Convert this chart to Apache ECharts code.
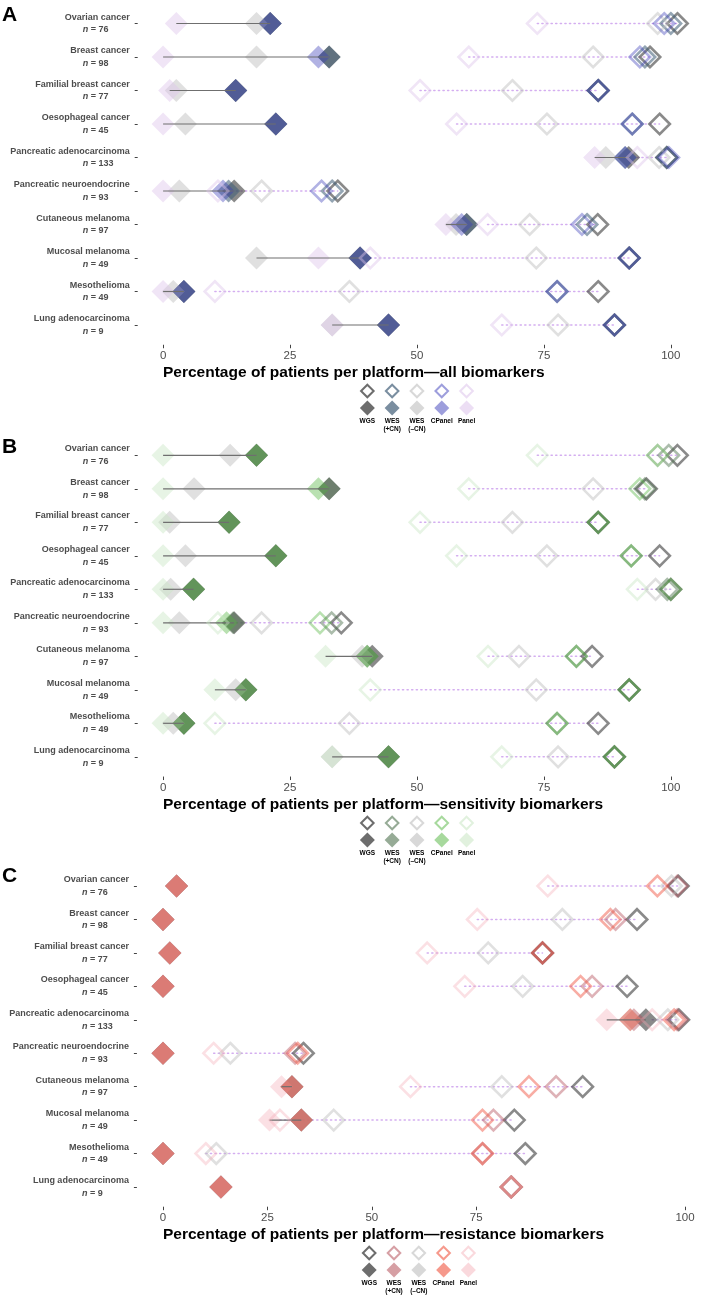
<!DOCTYPE html>
<html><head><meta charset="utf-8">
<script src="https://cdn.jsdelivr.net/npm/echarts@6/dist/echarts.min.js"></script>
<style>html,body{margin:0;padding:0;background:#fff}#c{width:704px;height:1296px}</style>
</head><body><div id="c"></div><script>
// ---------- DATA ----------
const cancers = ['Ovarian cancer','Breast cancer','Familial breast cancer','Oesophageal cancer','Pancreatic adenocarcinoma','Pancreatic neuroendocrine','Cutaneous melanoma','Mucosal melanoma','Mesothelioma','Lung adenocarcinoma'];
const cohortN = [76,98,77,45,133,93,97,49,49,9];
const platforms = ['WGS','WES (+CN)','WES (–CN)','CPanel','Panel'];
const legendLabels = ['WGS','WES\n(+CN)','WES\n(–CN)','CPanel','Panel'];
const panelLetters = ['A','B','C'];
const axisTitles = ['Percentage of patients per platform—all biomarkers','Percentage of patients per platform—sensitivity biomarkers','Percentage of patients per platform—resistance biomarkers'];
const tickValuesAB = [0,25,50,75,100];
const tickValuesC = [0,20,40,60,100];
const tickLabelsC = ['0','25','50','75','100'];

// Panel A – all biomarkers (filled / open diamonds), order follows cancers
const aFilledWGS     = [21.1, 32.7, 14.3, 22.2, 91.7, 14.0, 59.8, 38.8, 4.1, 44.4];
const aFilledWESCN   = [21.1, 32.7, 14.3, 22.2, 91.0, 12.9, 59.8, 38.8, 4.1, 44.4];
const aFilledWESnoCN = [18.4, 18.4, 2.6, 4.4, 87.2, 3.2, 57.7, 18.4, 2.0, 33.3];
const aFilledCPanel  = [21.1, 30.6, 14.3, 22.2, 91.0, 11.8, 58.8, 38.8, 4.1, 44.4];
const aFilledPanel   = [2.6, 0, 1.3, 0, 85.0, 0, 55.7, 30.6, 0, 33.3];
const aOpenWGS       = [101.3, 95.9, 85.7, 97.8, 99.2, 34.4, 85.6, 91.8, 85.7, 88.9];
const aOpenWESCN     = [100.0, 94.9, 85.7, 92.4, 99.2, 33.3, 83.5, 91.8, 77.6, 88.9];
const aOpenWESnoCN   = [97.4, 84.7, 68.8, 75.6, 97.7, 19.4, 72.2, 73.5, 36.7, 77.8];
const aOpenCPanel    = [98.7, 93.9, 85.7, 92.4, 99.6, 31.2, 82.5, 91.8, 77.6, 88.9];
const aOpenPanel     = [73.7, 60.2, 50.6, 57.8, 93.4, 10.8, 63.9, 40.8, 10.2, 66.7];

// Panel B – sensitivity biomarkers
const bFilledWGS     = [18.4, 32.7, 13.0, 22.2, 6.0, 14.0, 41.2, 16.3, 4.1, 44.4];
const bFilledWESCN   = [18.4, 32.7, 13.0, 22.2, 6.0, 13.8, 40.2, 16.3, 4.1, 44.4];
const bFilledWESnoCN = [13.2, 6.1, 1.3, 4.4, 1.5, 3.2, 39.2, 14.3, 2.0, 33.3];
const bFilledCPanel  = [18.4, 30.6, 13.0, 22.2, 6.0, 12.5, 40.2, 16.3, 4.1, 44.4];
const bFilledPanel   = [0, 0, 0, 0, 0, 0, 32.0, 10.2, 0, 33.3];
const bOpenWGS       = [101.3, 95.2, 85.7, 97.8, 100, 35.1, 84.5, 91.8, 85.7, 88.9];
const bOpenWESCN     = [99.6, 94.9, 85.7, 92.2, 99.3, 33.2, 81.4, 91.8, 77.6, 88.9];
const bOpenWESnoCN   = [97.4, 84.7, 68.8, 75.6, 97.0, 19.4, 70.1, 73.5, 36.7, 77.8];
const bOpenCPanel    = [97.4, 93.9, 85.7, 92.2, 100, 30.9, 81.4, 91.8, 77.6, 88.9];
const bOpenPanel     = [73.7, 60.2, 50.6, 57.8, 93.4, 10.8, 64.0, 40.8, 10.2, 66.7];

// Panel C – resistance biomarkers
const cFilledWGS     = [2.6, 0, 1.3, 0, 92.5, 0, 24.7, 26.5, 0, 11.1];
const cFilledWESCN   = [2.6, 0, 1.3, 0, 90.2, 0, 24.7, 26.5, 0, 11.1];
const cFilledWESnoCN = [2.6, 0, 1.3, 0, 89.5, 0, 24.7, 26.5, 0, 11.1];
const cFilledCPanel  = [2.6, 0, 1.3, 0, 89.5, 0, 24.7, 26.5, 0, 11.1];
const cFilledPanel   = [2.6, 0, 1.3, 0, 85.0, 0, 22.7, 20.4, 0, 11.1];
const cOpenWGS       = [98.7, 90.8, 72.7, 88.9, 98.8, 26.9, 80.4, 67.3, 69.4, 66.7];
const cOpenWESCN     = [98.5, 86.7, 72.7, 82.2, 98.5, 25.3, 75.3, 63.3, 61.2, 66.7];
const cOpenWESnoCN   = [97.4, 76.5, 62.3, 68.9, 96.7, 12.9, 64.9, 32.7, 10.2, 66.7];
const cOpenCPanel    = [94.7, 85.7, 72.7, 80.0, 97.9, 25.8, 70.1, 61.2, 61.2, 66.7];
const cOpenPanel     = [73.7, 60.2, 50.6, 57.8, 93.7, 9.7, 47.4, 22.4, 8.2, 66.7];

// ---------- STYLE / LAYOUT ----------
const FONT = '"Liberation Sans", Arial, Helvetica, sans-serif';
const W = 704;
const colorsA = ['rgba(60,60,60,0.75)','rgba(65,94,119,0.7)','rgba(190,190,190,0.6)','rgba(60,62,185,0.5)','rgba(220,195,235,0.55)'];
const colorsB = ['rgba(60,60,60,0.75)','rgba(80,115,80,0.6)','rgba(190,190,190,0.6)','rgba(80,180,60,0.5)','rgba(200,230,195,0.55)'];
const colorsC = ['rgba(60,60,60,0.75)','rgba(180,80,90,0.55)','rgba(190,190,190,0.6)','rgba(240,90,70,0.62)','rgba(245,170,180,0.45)'];
const filledDrawOrder = [0, 1, 2, 4, 3]; // CPanel drawn on top of the filled stack

const panels = [
  {filled:[aFilledWGS,aFilledWESCN,aFilledWESnoCN,aFilledCPanel,aFilledPanel],
   open:[aOpenWGS,aOpenWESCN,aOpenWESnoCN,aOpenCPanel,aOpenPanel],
   colors: colorsA, top: 6.75, height: 335, left: 137.7, right: 7.8, min: -5, max: 105,
   ticks: tickValuesAB, labels: tickValuesAB.map(String), titleY: 373, letterY: 13},
  {filled:[bFilledWGS,bFilledWESCN,bFilledWESnoCN,bFilledCPanel,bFilledPanel],
   open:[bOpenWGS,bOpenWESCN,bOpenWESnoCN,bOpenCPanel,bOpenPanel],
   colors: colorsB, top: 438.55, height: 335, left: 137.7, right: 7.8, min: -5, max: 105,
   ticks: tickValuesAB, labels: tickValuesAB.map(String), titleY: 805, letterY: 445},
  {filled:[cFilledWGS,cFilledWESCN,cFilledWESnoCN,cFilledCPanel,cFilledPanel],
   open:[cOpenWGS,cOpenWESCN,cOpenWESnoCN,cOpenCPanel,cOpenPanel],
   colors: colorsC, top: 869.3, height: 334.4, left: 136.9, right: 3.3, min: -5, max: 103,
   ticks: tickValuesC, labels: tickLabelsC, titleY: 1235, letterY: 874}
];

// measure label text so that the "n = …" line starts at a fixed offset from the right edge
const mctx = document.createElement('canvas').getContext('2d');
mctx.font = 'bold 9px ' + FONT;
const nameW = cancers.map(c => mctx.measureText(c).width);
const valW = cohortN.map(n => mctx.measureText(' = ' + n).width);
mctx.font = 'italic bold 9px ' + FONT;
const nW = mctx.measureText('n').width;
const N_OFFSET = 47;
const LH = 12.7;
const base = {fontSize: 9, fontWeight: 'bold', color: '#4d4d4d', lineHeight: LH, fontFamily: FONT};
const rich = {
  a: Object.assign({}, base),
  i: Object.assign({}, base, {fontStyle: 'italic'}),
  b: Object.assign({}, base)
};
cancers.forEach((c, i) => {
  rich['p' + i] = Object.assign({}, base, {width: Math.max(0, nameW[i] - N_OFFSET)});
  rich['t' + i] = Object.assign({}, base, {width: Math.max(0, N_OFFSET - nW - valW[i])});
});

const grids = [], xAxes = [], yAxes = [], series = [], graphics = [];

panels.forEach((p, gi) => {
  grids.push({left: p.left, right: p.right, top: p.top, height: p.height, containLabel: false});
  xAxes.push({
    type: 'value', gridIndex: gi, min: p.min, max: p.max, offset: 3,
    axisLine: {show: false, onZero: false}, splitLine: {show: false},
    axisTick: {show: true, length: 3.5, customValues: p.ticks, lineStyle: {color: '#444', width: 1}},
    axisLabel: {show: true, customValues: p.ticks, margin: 5, color: '#4d4d4d', fontSize: 11.5, fontFamily: FONT,
      formatter: v => p.labels[p.ticks.indexOf(v)]}
  });
  yAxes.push({
    type: 'category', gridIndex: gi, data: cancers, inverse: true,
    axisLine: {show: false, onZero: false}, splitLine: {show: false},
    axisTick: {show: true, alignWithLabel: true, length: 3, lineStyle: {color: '#444', width: 1}},
    axisLabel: {
      margin: 8, fontFamily: FONT, align: 'right',
      formatter: (v, idx) => '{a|' + v + '}\n{p' + idx + '| }{i|n}{b| = ' + cohortN[idx] + '}{t' + idx + '| }',
      rich: rich
    }
  });

  const rowsF = cancers.map((_, i) => p.filled.map(arr => arr[i]));
  const rowsO = cancers.map((_, i) => p.open.map(arr => arr[i]));
  const seg = (rows, style, z) => ({
    type: 'custom', xAxisIndex: gi, yAxisIndex: gi, silent: true, clip: false, z: z,
    data: rows.map((r, i) => [Math.min(...r), Math.max(...r), i]),
    encode: {x: [0, 1], y: 2},
    renderItem: (params, api) => {
      const a = api.coord([api.value(0), api.value(2)]);
      const b = api.coord([api.value(1), api.value(2)]);
      return {type: 'line', shape: {x1: a[0], y1: a[1], x2: b[0], y2: b[1]}, style: style};
    }
  });
  series.push(seg(rowsO, {stroke: '#d4aef0', lineWidth: 1.5, lineDash: [1.2, 3.4], lineCap: 'round'}, 1));
  series.push(seg(rowsF, {stroke: '#6f6f6f', lineWidth: 1.2}, 4));

  filledDrawOrder.forEach(k => {
    series.push({
      type: 'scatter', name: platforms[k], xAxisIndex: gi, yAxisIndex: gi, clip: false, silent: true, z: 3,
      symbol: 'diamond', symbolSize: 23,
      itemStyle: {color: p.colors[k]},
      data: p.filled[k].map((v, i) => [v, i])
    });
  });
  platforms.forEach((pl, k) => {
    series.push({
      type: 'scatter', name: pl + ' ', xAxisIndex: gi, yAxisIndex: gi, clip: false, silent: true, z: 5,
      symbol: 'diamond', symbolSize: 20.5,
      itemStyle: {color: 'rgba(0,0,0,0)', borderColor: p.colors[k], borderWidth: 2.6},
      data: p.open[k].map((v, i) => [v, i])
    });
  });

  // panel letter
  graphics.push({type: 'text', left: 2, top: p.letterY - 8, style: {text: panelLetters[gi], font: 'bold 21px ' + FONT, fill: '#000'}});
  // axis title
  const cx = (p.left + (W - p.right)) / 2;
  graphics.push({type: 'text', x: 163, y: p.titleY, style: {text: axisTitles[gi], font: 'bold 15.5px ' + FONT, fill: '#000', textAlign: 'left', textVerticalAlign: 'middle'}});
  // legend: open row above, filled row below, labels underneath
  const step = 24.8;
  platforms.forEach((pl, k) => {
    const lx = cx - 2 * step + k * step;
    const h1 = 6.3, h2 = 7.5;
    const yo = p.titleY + 18, yf = p.titleY + 35;
    graphics.push({type: 'polygon', shape: {points: [[lx, yo - h1], [lx + h1, yo], [lx, yo + h1], [lx - h1, yo]]},
      style: {fill: 'none', stroke: p.colors[k], lineWidth: 2}});
    graphics.push({type: 'polygon', shape: {points: [[lx, yf - h2], [lx + h2, yf], [lx, yf + h2], [lx - h2, yf]]},
      style: {fill: p.colors[k]}});
    graphics.push({type: 'text', x: lx, y: p.titleY + 44, style: {text: legendLabels[k], font: 'bold 6.5px ' + FONT, fill: '#000', textAlign: 'center', textVerticalAlign: 'top', lineHeight: 8}});
  });
});

const chart = echarts.init(document.getElementById('c'), null, {renderer: 'canvas'});
chart.setOption({
  animation: false,
  backgroundColor: '#fff',
  textStyle: {fontFamily: FONT},
  grid: grids, xAxis: xAxes, yAxis: yAxes, series: series, graphic: graphics
});
</script></body></html>
